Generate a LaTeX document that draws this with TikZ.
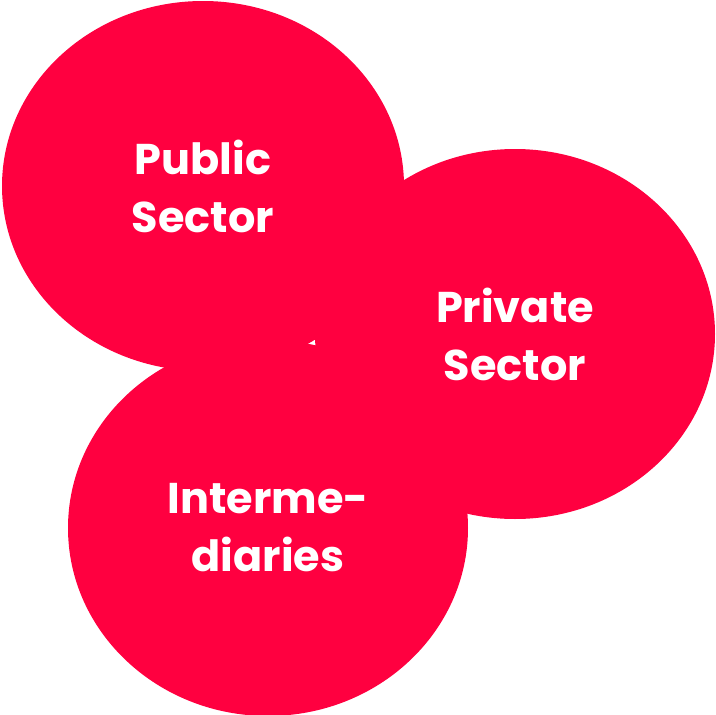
\documentclass[tikz,border=0pt]{standalone}
\usepackage{fontspec}
\setmainfont{Poppins}
\usetikzlibrary{shapes.geometric}
\definecolor{blobred}{RGB}{255,0,64}

\begin{document}
\begin{tikzpicture}[x=1pt, y=-1pt,
    sector/.style={ellipse, fill=blobred, draw=none, inner sep=0pt,
      text=white, align=center,
      font=\bfseries\fontsize{43}{58}\selectfont,
      minimum width=402pt, minimum height=370pt}]
    \path[use as bounding box] (0, 0) rectangle (716, 715);

    \node[sector] (public) at (203, 186) {Public\\Sector};
    \node[sector, minimum width=400pt] (private) at (515, 334) {Private\\Sector};
    \node[sector, minimum width=400pt, minimum height=376pt] (inter) at (268, 528) {Interme-\\diaries};
\end{tikzpicture}
\end{document}
